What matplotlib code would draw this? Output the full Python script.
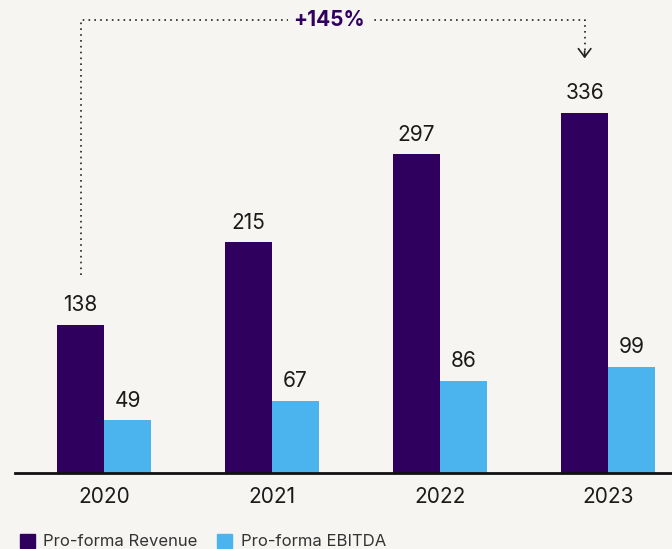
import matplotlib.pyplot as plt
import matplotlib.patches as mpatches
import numpy as np

plt.rcParams['font.family'] = ['Inter', 'DejaVu Sans']

# Data
years = ['2020', '2021', '2022', '2023']
revenue = [138, 215, 297, 336]
ebitda = [49, 67, 86, 99]
growth_label = '+145%'

# Colours
bg = '#F6F5F2'
c_rev = '#30005F'
c_ebitda = '#4BB4EF'
c_text = '#1A1A1A'

fig = plt.figure(figsize=(6.72, 5.49), dpi=100, facecolor=bg)
ax = fig.add_axes([15 / 672, 76 / 549, 657 / 672, 473 / 549])
ax.set_facecolor(bg)

x = np.arange(len(years))
w = 0.28
ax.bar(x - w / 2, revenue, w, color=c_rev)
ax.bar(x + w / 2, ebitda, w, color=c_ebitda)

for xi, v in zip(x - w / 2, revenue):
    ax.text(xi, v + 9, str(v), ha='center', va='bottom', fontsize=15, color=c_text)
for xi, v in zip(x + w / 2, ebitda):
    ax.text(xi, v + 9, str(v), ha='center', va='bottom', fontsize=15, color=c_text)

ax.set_xlim(-0.53, 3.38)
ax.set_ylim(0, 441)
ax.set_xticks(x)
ax.set_xticklabels(years, fontsize=15, color=c_text)
ax.tick_params(axis='x', length=0, pad=10)
ax.set_yticks([])
for s in ['top', 'right', 'left']:
    ax.spines[s].set_visible(False)
ax.spines['bottom'].set_linewidth(2)
ax.spines['bottom'].set_color('#111111')

# Growth annotation
x0 = x[0] - w / 2
x1 = x[-1] - w / 2
y_top = 422
dot = dict(color='#222222', linestyle=(0, (1, 2.5)), linewidth=1.2, clip_on=False)
ax.plot([x0, x0, x1, x1], [185, y_top, y_top, 386], **dot)
ax.annotate('', xy=(x1, 384), xytext=(x1, 396),
            arrowprops=dict(arrowstyle='->,head_width=0.45,head_length=0.6',
                            color='#222222', linewidth=1.2),
            annotation_clip=False)
ax.text((x0 + x1) / 2 - 0.02, y_top, growth_label, ha='center', va='center',
        fontsize=15, fontweight='bold', color=c_rev,
        bbox=dict(facecolor=bg, edgecolor='none', pad=4), clip_on=False)

handles = [mpatches.Patch(color=c_rev, label='Pro-forma Revenue'),
           mpatches.Patch(color=c_ebitda, label='Pro-forma EBITDA')]
fig.legend(handles=handles, loc='lower left', bbox_to_anchor=(0.007, -0.028), ncol=2,
           frameon=False, fontsize=12, handlelength=0.9, handleheight=0.9,
           handletextpad=0.5, columnspacing=1.2, labelcolor='#333333')

fig.savefig('out.png', dpi=100, facecolor=bg)
